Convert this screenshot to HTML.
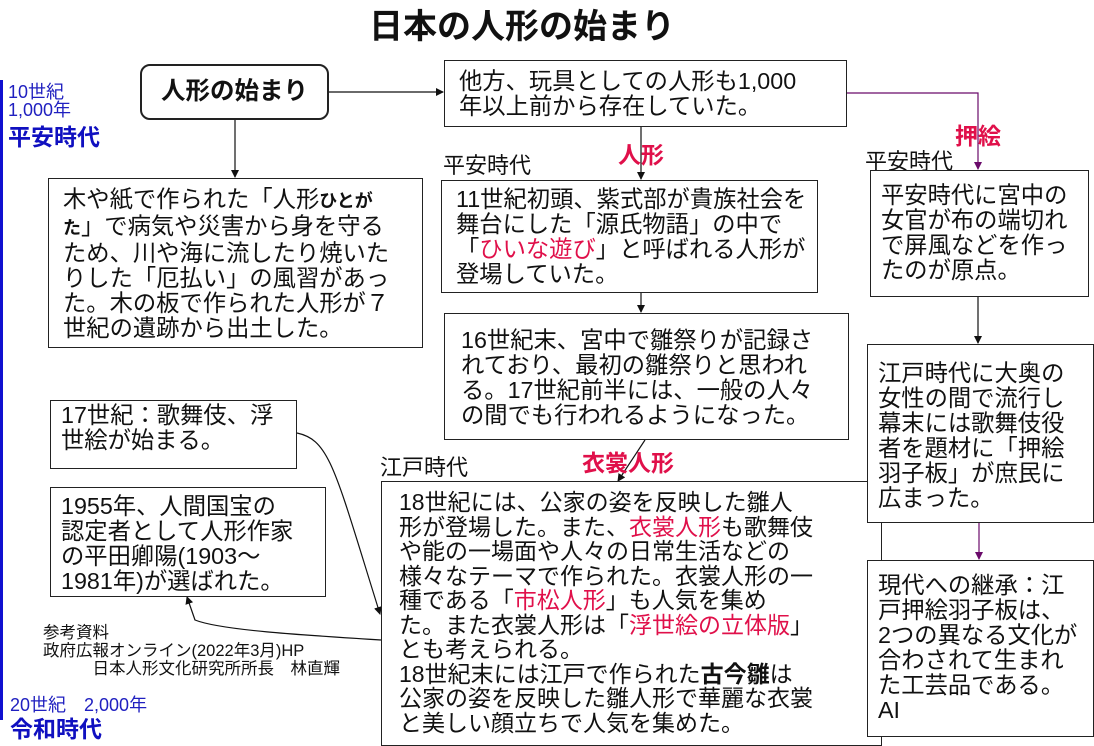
<!DOCTYPE html>
<html><head><meta charset="utf-8"><style>
body{margin:0;width:1094px;height:746px;background:#fff;position:relative;overflow:hidden;font-family:"Liberation Sans","Noto Sans CJK JP",sans-serif;color:#111}
.b{position:absolute;border:1.5px solid #222;box-sizing:border-box;font-size:23.3px;line-height:25px;white-space:nowrap;background:#fff}
.t{position:absolute;white-space:nowrap}
.r{color:#e0104a}
.lbl{position:absolute;color:#e0104a;font-weight:bold;font-size:23px}
svg{position:absolute;left:0;top:0}
</style></head><body>
<svg width="1094" height="746">
<defs><marker id="a" markerWidth="8" markerHeight="10" refX="7" refY="5" orient="auto" markerUnits="userSpaceOnUse"><path d="M0,1 L8,5 L0,9z" fill="#111"/></marker>
<marker id="p" markerWidth="8" markerHeight="10" refX="7" refY="5" orient="auto" markerUnits="userSpaceOnUse"><path d="M0,1 L8,5 L0,9z" fill="#6a0a6a"/></marker></defs>
<rect x="0" y="80" width="3" height="640" fill="#1010d0"/>
<g stroke="#111" stroke-width="1.2" fill="none">
<line x1="328" y1="92" x2="443" y2="92" marker-end="url(#a)"/>
<line x1="235" y1="120" x2="235" y2="177" marker-end="url(#a)"/>
<line x1="641" y1="126" x2="641" y2="179" marker-end="url(#a)"/>
<line x1="641" y1="292" x2="641" y2="312" marker-end="url(#a)"/>
<line x1="645" y1="440" x2="618" y2="481" marker-end="url(#a)"/>
<line x1="978" y1="296" x2="978" y2="343" marker-end="url(#a)"/>
<path d="M297,433 C330,440 335,470 380,614" marker-end="url(#a)"/>
<path d="M381,640 C300,635 220,630 195,620 L187,597" marker-end="url(#a)"/>
</g>
<g stroke="#6a0a6a" stroke-width="1.2" fill="none">
<polyline points="846,93 978,93 978,169" marker-end="url(#p)"/>
<line x1="979" y1="522" x2="979" y2="559" marker-end="url(#p)"/>
</g>
</svg>
<div class="t" style="left:0;width:1044px;text-align:center;top:-1px;font-size:34px;font-weight:bold">日本の人形の始まり</div>
<div class="t" style="left:8px;top:83px;color:#2020c0;font-size:18px;line-height:18px">10世紀<br>1,000年</div>
<div class="t" style="left:8px;top:118px;color:#1010c0;font-size:23px;font-weight:bold">平安時代</div>
<div class="t" style="left:10px;top:691px;color:#2020c0;font-size:18px">20世紀　2,000年</div>
<div class="t" style="left:10px;top:710px;color:#1010c0;font-size:23px;font-weight:bold">令和時代</div>

<div class="b" style="left:140px;top:64px;width:189px;height:56px;border-radius:10px;border-width:2px;font-size:24.5px;text-align:center;line-height:52px;font-weight:bold">人形の始まり</div>
<div class="b" style="left:444px;top:60px;width:403px;height:67px;padding:8px 0 0 14px">他方、玩具としての人形も1,000<br>年以上前から存在していた。</div>
<div class="b" style="left:48px;top:178px;width:375px;height:170px;padding:8px 0 0 14px">木や紙で作られた「人形<b style="font-size:18px">ひとが<br>た</b>」で病気や災害から身を守る<br>ため、川や海に流したり焼いた<br>りした「厄払い」の風習があっ<br>た。木の板で作られた人形が７<br>世紀の遺跡から出土した。</div>

<div class="t" style="left:443px;top:148px;font-size:22px">平安時代</div>
<div class="lbl" style="left:618px;top:136px">人形</div>
<div class="b" style="left:441px;top:180px;width:377px;height:113px;padding:6px 0 0 14px">11世紀初頭、紫式部が貴族社会を<br>舞台にした「源氏物語」の中で<br>「<span class="r">ひいな遊び</span>」と呼ばれる人形が<br>登場していた。</div>
<div class="b" style="left:444px;top:313px;width:405px;height:127px;padding:14px 0 0 16px">16世紀末、宮中で雛祭りが記録さ<br>れており、最初の雛祭りと思われ<br>る。17世紀前半には、一般の人々<br>の間でも行われるようになった。</div>

<div class="b" style="left:50px;top:400px;width:247px;height:69px;padding:2px 0 0 10px">17世紀：歌舞伎、浮<br>世絵が始まる。</div>
<div class="b" style="left:50px;top:487px;width:276px;height:110px;padding:6px 0 0 10px">1955年、人間国宝の<br>認定者として人形作家<br>の平田卿陽(1903～<br>1981年)が選ばれた。</div>
<div class="t" style="left:43px;top:624px;font-size:16.5px;line-height:18px">参考資料<br>政府広報オンライン(2022年3月)HP<br>　　　日本人形文化研究所所長　林直輝</div>

<div class="t" style="left:380px;top:450px;font-size:22px">江戸時代</div>
<div class="lbl" style="left:582px;top:444px">衣裳人形</div>
<div class="b" style="left:381px;top:481px;width:501px;height:265px;padding:8px 0 0 17px;line-height:24.5px;font-size:23px">18世紀には、公家の姿を反映した雛人<br>形が登場した。また、<span class="r">衣裳人形</span>も歌舞伎<br>や能の一場面や人々の日常生活などの<br>様々なテーマで作られた。衣裳人形の一<br>種である「<span class="r">市松人形</span>」も人気を集め<br>た。また衣裳人形は「<span class="r">浮世絵の立体版</span>」<br>とも考えられる。<br>18世紀末には江戸で作られた<b>古今雛</b>は<br>公家の姿を反映した雛人形で華麗な衣裳<br>と美しい顔立ちで人気を集めた。</div>

<div class="lbl" style="left:955px;top:117px">押絵</div>
<div class="t" style="left:865px;top:144px;font-size:22px">平安時代</div>
<div class="b" style="left:870px;top:170px;width:219px;height:127px;padding:12px 0 0 10px">平安時代に宮中の<br>女官が布の端切れ<br>で屏風などを作っ<br>たのが原点。</div>
<div class="b" style="left:867px;top:344px;width:227px;height:179px;padding:16px 0 0 10px">江戸時代に大奥の<br>女性の間で流行し<br>幕末には歌舞伎役<br>者を題材に「押絵<br>羽子板」が庶民に<br>広まった。</div>
<div class="b" style="left:867px;top:560px;width:227px;height:177px;padding:12px 0 0 10px">現代への継承：江<br>戸押絵羽子板は、<br>2つの異なる文化が<br>合わされて生まれ<br>た工芸品である。<br>AI</div>
</body></html>
